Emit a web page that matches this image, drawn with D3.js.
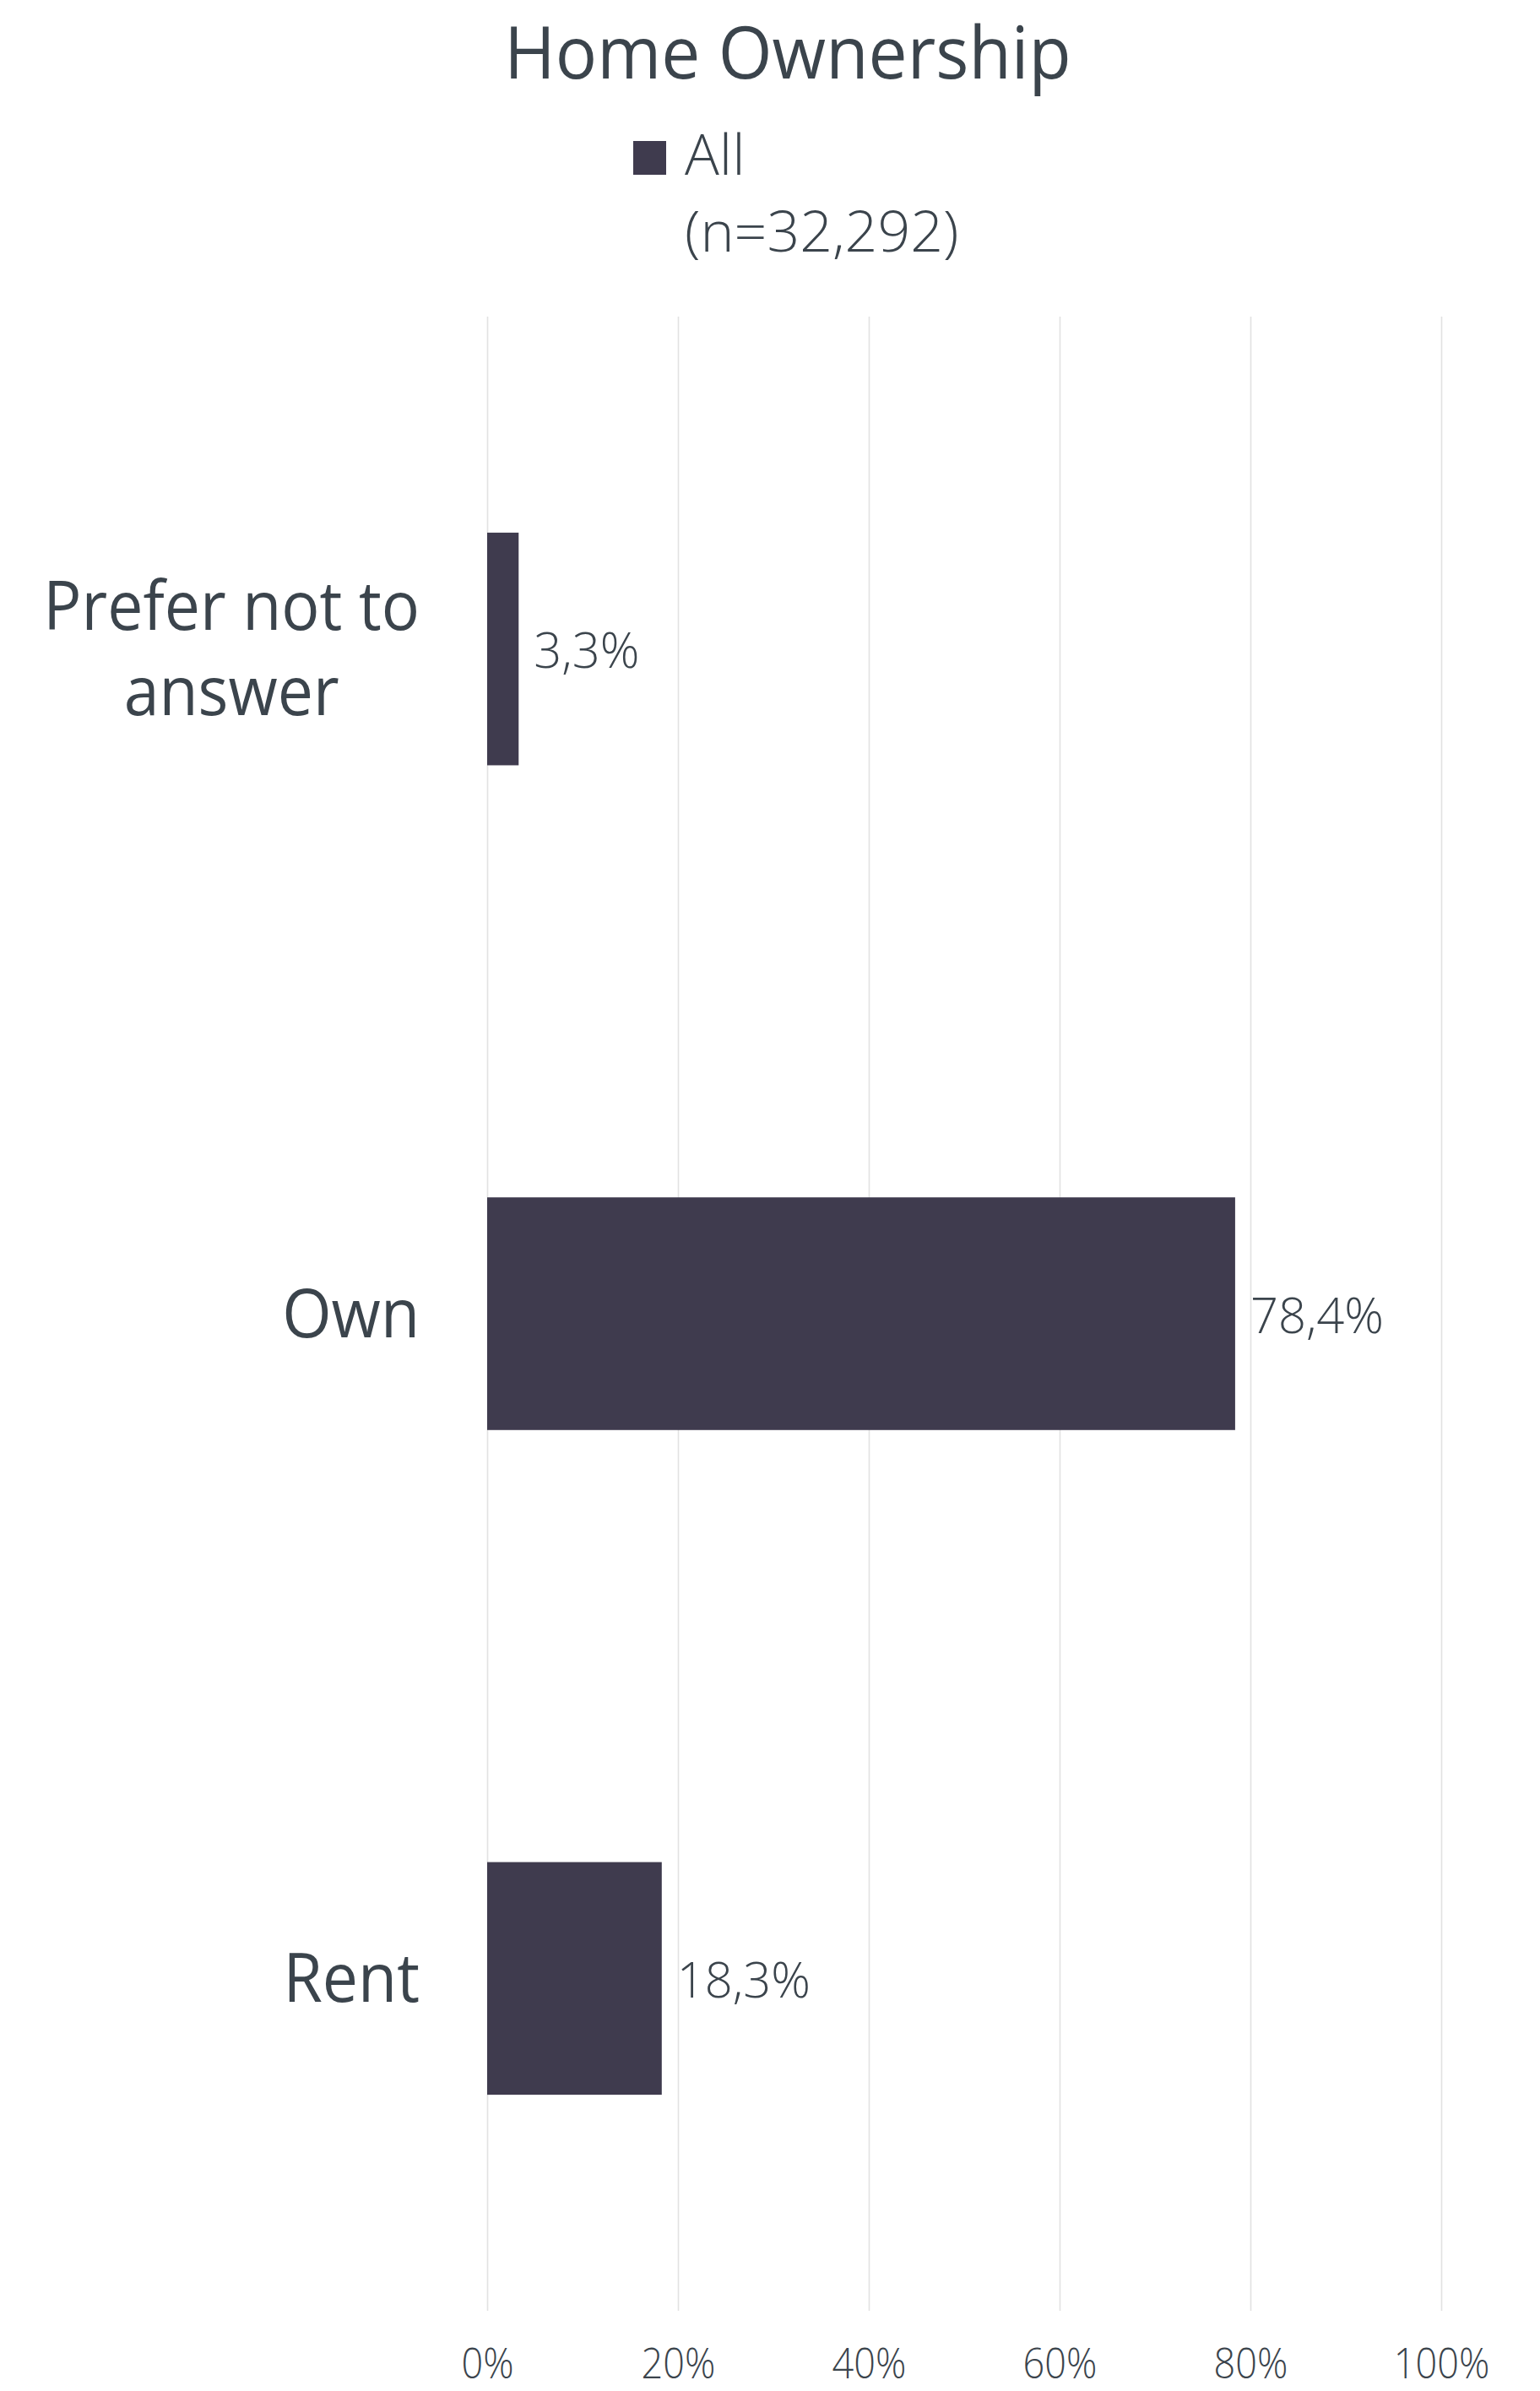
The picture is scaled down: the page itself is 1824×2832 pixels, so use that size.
<!DOCTYPE html>
<html>
<head>
<meta charset="utf-8">
<script src="https://cdn.jsdelivr.net/npm/d3@7"></script>
<style>
  html, body { margin: 0; padding: 0; background: #ffffff; }
  svg { display: block; }
  text { font-family: "Open Sans", "Noto Sans", sans-serif; fill: #3b444c; }
</style>
</head>
<body>
<svg id="chart" width="1824" height="2832"></svg>
<script>
// Chart data
const chartTitle = "Home Ownership";
const seriesName = "All";
const seriesNote = "(n=32,292)";
const categories = ["Prefer not to answer", "Own", "Rent"];
const categoryLines = [["Prefer not to", "answer"], ["Own"], ["Rent"]];
const values = [3.3, 78.4, 18.3];
const tickValues = [0, 20, 40, 60, 80, 100];

// Layout
const plot = { left: 577, right: 1707, top: 375, bottom: 2737 };
const barColor = "#3f3b4e";
const gridColor = "#e2e2e2";

const svg = d3.select("#chart");

const x = d3.scaleLinear().domain([0, 100]).range([plot.left, plot.right]);
const y = d3.scaleBand().domain(categories).range([plot.top, plot.bottom])
  .paddingInner(0.65).paddingOuter(0.325);

const fmtValue = d => d3.format(".1f")(d).replace(".", ",") + "%";

// Place a text node at (tx, ty) with a horizontal scale around its anchor
function placeText(sel, tx, ty, sx) {
  sel.attr("x", 0).attr("y", 0)
     .attr("transform", `translate(${tx},${ty}) scale(${sx},1)`);
  return sel;
}

// Gridlines + tick labels
const axis = d3.axisBottom(x)
  .tickValues(tickValues)
  .tickSize(-(plot.bottom - plot.top))
  .tickFormat(d => d + "%");

const axisG = svg.append("g")
  .attr("transform", `translate(0,${plot.bottom})`)
  .call(axis);
axisG.select(".domain").remove();
axisG.selectAll(".tick line").attr("stroke", gridColor).attr("stroke-width", 1.6);
axisG.selectAll(".tick text")
  .attr("fill", "#3b444c")
  .style("font-size", "49px")
  .style("font-weight", 300)
  .attr("dy", null)
  .attr("x", 0).attr("y", 80)
  .attr("transform", "scale(0.92,1)");

// Bars
svg.append("g").selectAll("rect")
  .data(categories)
  .join("rect")
  .attr("x", x(0))
  .attr("y", d => y(d))
  .attr("width", (d, i) => x(values[i]) - x(0))
  .attr("height", y.bandwidth())
  .attr("fill", barColor);

// Value labels
svg.append("g").selectAll("text")
  .data(categories)
  .join("text")
  .style("font-size", "59px")
  .style("font-weight", 300)
  .attr("text-anchor", "start")
  .attr("dominant-baseline", "central")
  .text((d, i) => fmtValue(values[i]))
  .each(function (d, i) {
    placeText(d3.select(this), x(values[i]) + 18, y(d) + y.bandwidth() / 2, 0.98);
  });

// Category labels: block right-aligned, lines centred within the block
const labelRight = 497;
const lineGap = 101;
const catSqueeze = 0.94;
categories.forEach((cat, i) => {
  const lines = categoryLines[i];
  const g = svg.append("g");
  const texts = lines.map(line => g.append("text")
    .style("font-size", "80px")
    .attr("text-anchor", "middle")
    .text(line));
  const widest = d3.max(texts, t => t.node().getComputedTextLength()) * catSqueeze;
  const cx = labelRight - widest / 2;
  const cy = y(cat) + y.bandwidth() / 2;
  const firstBase = cy + 28 - (lines.length - 1) * lineGap / 2;
  texts.forEach((t, j) => placeText(t, cx, firstBase + j * lineGap, catSqueeze));
});

// Title
placeText(svg.append("text")
  .style("font-size", "86px")
  .attr("text-anchor", "middle")
  .text(chartTitle), 933, 93, 0.955);

// Legend
svg.append("rect")
  .attr("x", 750).attr("y", 167)
  .attr("width", 39).attr("height", 40)
  .attr("fill", barColor);
placeText(svg.append("text")
  .style("font-size", "66px")
  .style("font-weight", 300)
  .text(seriesName), 811, 207, 1.03);
placeText(svg.append("text")
  .style("font-size", "66px")
  .style("font-weight", 300)
  .text(seriesNote), 811, 298, 1.03);
</script>
</body>
</html>
